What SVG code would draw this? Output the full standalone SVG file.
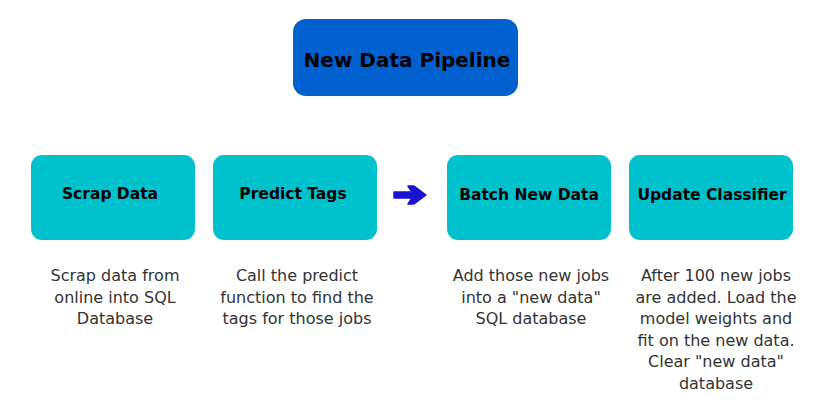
<svg xmlns="http://www.w3.org/2000/svg" width="830" height="400" viewBox="0 0 830 400">
<style>
.box{fill:#00c2cd}
.title{fill:#0060cf}
.lbl{font-family:"DejaVu Sans",Verdana,sans-serif;font-weight:bold;font-size:15.5px;fill:#000;text-anchor:middle}
.ttl{font-family:"DejaVu Sans",Verdana,sans-serif;font-weight:bold;font-size:20px;fill:#000;text-anchor:middle}
.desc{font-family:"DejaVu Sans",Verdana,sans-serif;font-size:16px;fill:#333;text-anchor:middle}
</style>
<rect width="830" height="400" fill="#fff"/>
<g id="title">
<rect class="title" x="293" y="19" width="225" height="77" rx="13"/>
<text class="ttl" x="407" y="67">New Data Pipeline</text>
</g>
<g id="scrap">
<rect class="box" x="31" y="155" width="164" height="85" rx="11"/>
<text class="lbl" x="110" y="199">Scrap Data</text>
<text class="desc"><tspan x="115" y="281">Scrap data from</tspan><tspan x="115" y="302.5">online into SQL</tspan><tspan x="115" y="324">Database</tspan></text>
</g>
<g id="predict">
<rect class="box" x="213" y="155" width="164" height="85" rx="11"/>
<text class="lbl" x="293" y="199">Predict Tags</text>
<text class="desc"><tspan x="297" y="281">Call the predict</tspan><tspan x="297" y="302.5">function to find the</tspan><tspan x="297" y="324">tags for those jobs</tspan></text>
</g>
<g id="batch">
<rect class="box" x="447" y="155" width="164" height="85" rx="11"/>
<text class="lbl" x="529" y="200">Batch New Data</text>
<text class="desc"><tspan x="531" y="281">Add those new jobs</tspan><tspan x="531" y="302.5">into a "new data"</tspan><tspan x="531" y="324">SQL database</tspan></text>
</g>
<g id="update">
<rect class="box" x="629" y="155" width="164" height="85" rx="11"/>
<text class="lbl" x="712" y="200">Update Classifier</text>
<text class="desc"><tspan x="716" y="281">After 100 new jobs</tspan><tspan x="716" y="302.5">are added. Load the</tspan><tspan x="716" y="324">model weights and</tspan><tspan x="716" y="345.5">fit on the new data.</tspan><tspan x="716" y="367">Clear "new data"</tspan><tspan x="716" y="388.5">database</tspan></text>
</g>
<g id="connectors">
<path d="M394 192 L412 192 L408 186 L414 186 L426 195 L414 204 L408 204 L412 198 L394 198 Z" fill="#1a12cc" stroke="#1a12cc" stroke-width="1.5" stroke-linejoin="round"/>
</g>
</svg>
